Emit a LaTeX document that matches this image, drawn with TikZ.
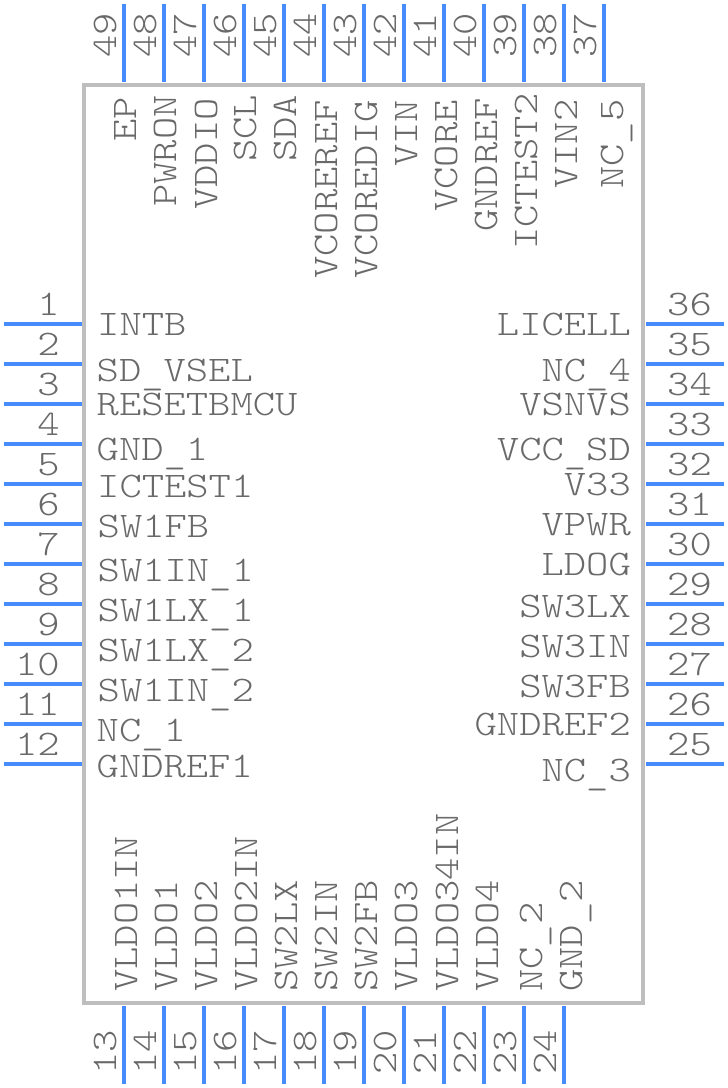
\documentclass[tikz,border=0pt]{standalone}
\usepackage{fontspec}
\setmonofont[FakeStretch=1.18]{Latin Modern Mono Light}
\definecolor{pinblue}{RGB}{70,140,250}
\definecolor{bodygray}{RGB}{190,190,190}
\definecolor{txtgray}{RGB}{105,105,105}
\newcommand{\us}{\raisebox{-3.5pt}{\_}}
\tikzset{x=1pt,y=-1pt,
 pin/.style={draw=pinblue,line width=4pt},
 lab/.style={inner sep=0pt,text=txtgray,font=\fontsize{36}{36}\selectfont\ttfamily},
 lw/.style={lab,anchor=base west},
 le/.style={lab,anchor=base east},
 vw/.style={lab,anchor=base west,rotate=90}}
\begin{document}
\begin{tikzpicture}
\useasboundingbox (0,0) rectangle (728,1088);
\draw[draw=bodygray,line width=4pt] (84,85) rectangle (643,1003);
\foreach \n/\y in {1/324,2/364,3/404,4/444,5/484,6/524,7/564,8/604,9/644,10/684,11/724,12/764}{
  \coordinate (la\n) at (4,\y); \coordinate (lb\n) at (82,\y);
  \draw[pin] (la\n) -- (lb\n);
  \node[le] (ln\n) at (60,\y-9) {\n};}
\foreach \n/\y in {36/324,35/364,34/404,33/444,32/484,31/524,30/564,29/604,28/644,27/684,26/724,25/764}{
  \coordinate (ra\n) at (646,\y); \coordinate (rb\n) at (724,\y);
  \draw[pin] (ra\n) -- (rb\n);
  \node[lw] (rn\n) at (667,\y-9) {\n};}
\foreach \n/\x in {49/124,48/164,47/204,46/244,45/284,44/324,43/364,42/404,41/444,40/484,39/524,38/564,37/604}{
  \coordinate (ta\n) at (\x,4); \coordinate (tb\n) at (\x,82);
  \draw[pin] (ta\n) -- (tb\n);
  \node[vw] (tn\n) at (\x-7.5,58) {\n};}
\foreach \n/\x in {13/124,14/164,15/204,16/244,17/284,18/324,19/364,20/404,21/444,22/484,23/524,24/564}{
  \coordinate (ba\n) at (\x,1006); \coordinate (bb\n) at (\x,1084);
  \draw[pin] (ba\n) -- (bb\n);
  \node[vw] (bn\n) at (\x-7.5,1074.5) {\n};}
\foreach \t/\x/\y in {INTB/97/335,SD\us VSEL/96.5/381,RESETBMCU/96.5/415,GND\us 1/96.5/460,ICTEST1/97/497,SW1FB/97.5/537,SW1IN\us 1/97.5/581,SW1LX\us 1/97.5/621,SW1LX\us 2/97.5/661,SW1IN\us 2/97.5/701,NC\us 1/96.5/741,GNDREF1/96.5/777}
  \node[lw] at (\x,\y) {\t};
\foreach \t/\y in {LICELL/335,NC\us 4/381,VSNVS/415,VCC\us SD/460,V33/495,VPWR/535,LDOG/575,SW3LX/617,SW3IN/657,SW3FB/697,GNDREF2/735,NC\us 3/781}
  \node[le] at (631,\y) {\t};
\foreach \t/\x/\y in {EP/136/142,PWRON/176/207,VDDIO/217/210,SCL/256/162,SDA/296/162,VCOREREF/337/279,VCOREDIG/377/279,VIN/417/167,VCORE/457/212,GNDREF/497/232,ICTEST2/537/250,VIN2/577/189,NC\us 5/623/189,VLDO1IN/137/992,VLDO1/177/992,VLDO2/217/992,VLDO2IN/257/992,SW2LX/297/992,SW2IN/337/992,SW2FB/377/992,VLDO3/417/992,VLDO34IN/458/992,VLDO4/498/992,NC\us 2/542/992,GND\us 2/582/992}
  \node[vw] at (\x,\y) {\t};
\end{tikzpicture}
\end{document}
